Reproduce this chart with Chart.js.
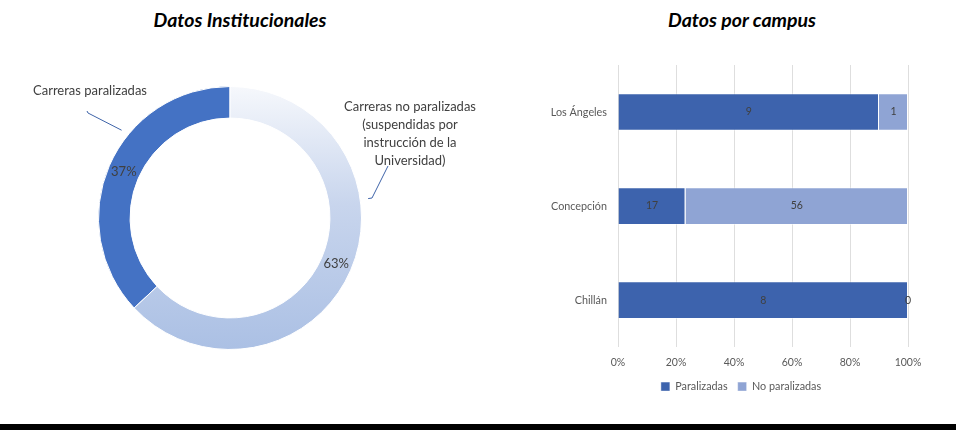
<!DOCTYPE html>
<html>
<head>
<meta charset="utf-8">
<script src="https://cdn.jsdelivr.net/npm/chart.js@4/dist/chart.umd.min.js"></script>
<style>
  html, body { margin: 0; padding: 0; background: #fff; }
  body { width: 956px; height: 430px; position: relative; overflow: hidden; font-family: Lato, sans-serif; }
  .title { position: absolute; top: 9px; font: italic bold 19.5px/22px Lato, sans-serif; color: #000; text-align: center; }
  #leftWrap { position: absolute; left: 0; top: 0; width: 480px; height: 424px; }
  #rightWrap { position: absolute; left: 526px; top: 0; width: 430px; height: 424px; }
  #bottomBar { position: absolute; left: 0; top: 424px; width: 956px; height: 6px; background: #000; }
</style>
</head>
<body>
<div class="title" style="left:120px;width:240px;">Datos Institucionales</div>
<div class="title" style="left:622px;width:240px;">Datos por campus</div>
<div id="leftWrap"><canvas id="donut" width="480" height="424"></canvas></div>
<div id="rightWrap"><canvas id="bars" width="430" height="424"></canvas></div>
<div id="bottomBar"></div>
<script>
// institutional data (percent)
const donutLabels = ['Carreras paralizadas', 'Carreras no paralizadas (suspendidas por instrucción de la Universidad)'];
const donutValues = [37, 63];

// per campus data (counts)
const campuses = ['Los Ángeles', 'Concepción', 'Chillán'];
const paralizadas = [9, 17, 8];
const noParalizadas = [1, 56, 0];
const xTicks = ['0%', '20%', '40%', '60%', '80%', '100%'];

const textColor = '#404040';
const axisColor = '#595959';

// callout text for the doughnut, offsets relative to centre
const callouts = [
    { lines: ['Carreras paralizadas'], angle: -141, path: [[-142, -105], [-143, -107]], text: [-140, -127] },
    { lines: ['Carreras no paralizadas', '(suspendidas por', 'instrucción de la', 'Universidad)'], angle: -8, path: [[142, -20], [158, -52]], text: [180, -111] }
];

const donutLabelsPlugin = {
    id: 'donutLabels',
    afterDatasetsDraw(chart) {
        const ctx = chart.ctx;
        const meta = chart.getDatasetMeta(0);
        const total = donutValues.reduce((a, b) => a + b, 0);
        ctx.save();
        ctx.font = '13px Lato, sans-serif';
        ctx.fillStyle = textColor;
        ctx.textAlign = 'center';
        ctx.textBaseline = 'middle';
        meta.data.forEach((arc, i) => {
            const p = arc.tooltipPosition();
            ctx.fillText(Math.round(donutValues[i] / total * 100) + '%', p.x, p.y);
        });
        // callouts
        const arc0 = meta.data[0];
        const cx = arc0.x, cy = arc0.y, r = arc0.outerRadius;
        callouts.forEach(c => {
            const a = c.angle * Math.PI / 180;
            ctx.strokeStyle = '#3e63a8';
            ctx.lineWidth = 1;
            ctx.beginPath();
            ctx.moveTo(cx + Math.cos(a) * (r + 8), cy + Math.sin(a) * (r + 8));
            c.path.forEach(pt => ctx.lineTo(cx + pt[0], cy + pt[1]));
            ctx.stroke();
            c.lines.forEach((ln, k) => {
                ctx.fillText(ln, cx + c.text[0], cy + c.text[1] + k * 18);
            });
        });
        ctx.restore();
    }
};

new Chart(document.getElementById('donut'), {
    type: 'doughnut',
    data: {
        labels: donutLabels,
        datasets: [{
            data: donutValues,
            backgroundColor: (c) => {
                if (c.dataIndex === 0) return '#4472c4';
                const area = c.chart.chartArea;
                if (!area) return '#c5d3ec';
                const g = c.chart.ctx.createLinearGradient(0, area.top, 0, area.bottom);
                g.addColorStop(0, '#f6f8fc');
                g.addColorStop(0.45, '#c8d5ed');
                g.addColorStop(1, '#abc0e4');
                return g;
            },
            borderColor: '#ffffff',
            borderWidth: 1
        }]
    },
    options: {
        responsive: false,
        animation: false,
        cutout: '76%',
        rotation: -360 * donutValues[0] / (donutValues[0] + donutValues[1]),
        layout: { padding: { top: 86, bottom: 74, left: 98, right: 118 } },
        plugins: {
            legend: { display: false },
            tooltip: { enabled: false }
        }
    },
    plugins: [donutLabelsPlugin]
});

// 100% stacked: convert counts to shares
const totals = paralizadas.map((v, i) => v + noParalizadas[i]);
const pctPar = paralizadas.map((v, i) => v / totals[i] * 100);
const pctNo = noParalizadas.map((v, i) => v / totals[i] * 100);
const rawCounts = [paralizadas, noParalizadas];

const barLabelsPlugin = {
    id: 'barLabels',
    afterDatasetsDraw(chart) {
        const ctx = chart.ctx;
        ctx.save();
        ctx.font = '10.5px Lato, sans-serif';
        ctx.fillStyle = textColor;
        ctx.textAlign = 'center';
        ctx.textBaseline = 'middle';
        chart.data.datasets.forEach((ds, d) => {
            chart.getDatasetMeta(d).data.forEach((el, i) => {
                ctx.fillText(String(rawCounts[d][i]), (el.x + el.base) / 2, el.y);
            });
        });
        ctx.restore();
    }
};

// keep the legend centred on the canvas, not on the plot
const centerLegend = {
    id: 'centerLegend',
    afterLayout(chart) {
        const lg = chart.legend;
        const dx = chart.width / 2 - (lg.left + lg.right) / 2;
        lg.left += dx;
        lg.right += dx;
    }
};

new Chart(document.getElementById('bars'), {
    type: 'bar',
    data: {
        labels: campuses,
        datasets: [
            { label: 'Paralizadas', data: pctPar, backgroundColor: '#3d63ad', borderColor: 'rgba(255,255,255,0.45)', borderWidth: 1, barPercentage: 0.4, categoryPercentage: 1 },
            { label: 'No paralizadas', data: pctNo, backgroundColor: '#8fa4d4', borderColor: 'rgba(255,255,255,0.45)', borderWidth: 1, barPercentage: 0.4, categoryPercentage: 1 }
        ]
    },
    options: {
        responsive: false,
        animation: false,
        indexAxis: 'y',
        layout: { padding: { top: 65, bottom: 22, left: 0, right: 48 } },
        scales: {
            x: {
                stacked: true,
                min: 0,
                max: 100,
                border: { display: false },
                grid: { color: '#dedede', lineWidth: 1, drawTicks: false },
                afterFit: (s) => { s.height = 24; },
                ticks: {
                    stepSize: 20,
                    padding: 9,
                    color: axisColor,
                    font: { family: 'Lato', size: 10.5 },
                    callback: (v, i) => xTicks[i]
                }
            },
            y: {
                stacked: true,
                border: { display: false },
                grid: { display: false },
                afterFit: (s) => { s.width = 92; },
                ticks: { padding: 3, color: axisColor, font: { family: 'Lato', size: 10.8 } }
            }
        },
        plugins: {
            legend: {
                position: 'bottom',
                labels: { boxWidth: 9, boxHeight: 9, padding: 10, color: axisColor, font: { family: 'Lato', size: 10.8 } }
            },
            tooltip: { enabled: false }
        }
    },
    plugins: [barLabelsPlugin, centerLegend]
});
</script>
</body>
</html>
